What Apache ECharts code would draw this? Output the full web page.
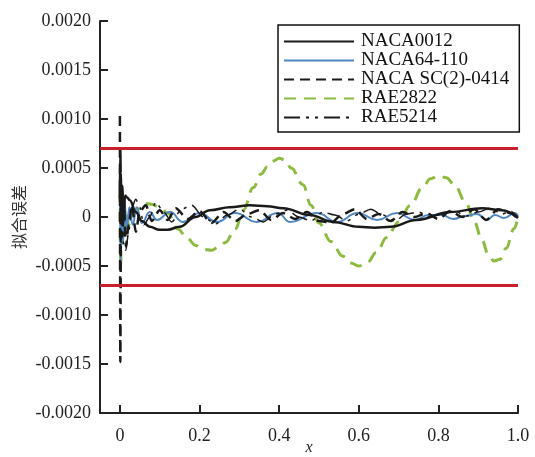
<!DOCTYPE html>
<html>
<head>
<meta charset="utf-8">
<script src="https://cdn.jsdelivr.net/npm/echarts@6/dist/echarts.min.js"></script>
<style>
  html, body { margin: 0; padding: 0; background: #fff; }
  #chart { width: 535px; height: 457px; }
</style>
</head>
<body>
<div id="chart"></div>
<script>
// Fitting error of five airfoil parameterisations along the chord x
const seriesNames = ['NACA0012', 'NACA64-110', 'NACA SC(2)-0414', 'RAE2822', 'RAE5214'];

const naca0012X = [0, 0.001, 0.002, 0.004, 0.006, 0.009, 0.013, 0.018, 0.025, 0.04, 0.055, 0.075, 0.1, 0.12, 0.15, 0.19, 0.226, 0.276, 0.327, 0.37, 0.41, 0.477, 0.535, 0.6, 0.64, 0.68, 0.745, 0.83, 0.91, 0.96, 1.0];
const naca0012Y = [0.0002, 0.0007, 0.00045, 0.0001, 0.00032, -0.00005, 0.00022, 0.0002, 0.00017, 0.00005, -0.00004, -0.0001, -0.00013, -0.00013, -0.0001, 0.0, 0.00007, 0.0001, 0.00012, 0.00011, 0.00009, 0.00002, -0.00005, -0.0001, -0.00011, -0.0001, -0.00003, 0.00005, 0.00009, 0.00007, -0.00001];

const naca64X = [0, 0.002, 0.005, 0.008, 0.012, 0.017, 0.024, 0.032, 0.042, 0.055, 0.075, 0.093, 0.126, 0.158, 0.2, 0.244, 0.289, 0.344, 0.397, 0.427, 0.495, 0.545, 0.598, 0.646, 0.696, 0.741, 0.775, 0.809, 0.837, 0.867, 0.897, 0.922, 0.942, 0.965, 0.992, 1.0];
const naca64Y = [0.0003, -0.00052, 0.00025, -0.00025, 0.00015, -0.00012, 0.0001, -0.00008, 0.0001, -0.00006, 0.00005, -0.00003, 0.00005, -0.00005, 0.00004, -0.00005, 0.00004, -0.00005, 0.00004, -0.00005, 0.00004, -0.00005, 0.00004, -0.00003, 0.00004, -0.00003, 0.00002, 0.00002, -0.00002, 0.00001, 0.00003, -0.00003, 0.00002, -0.00001, 0.00004, 0.00001];

const sc0414X = [0, 0.001, 0.003, 0.006, 0.01, 0.015, 0.022, 0.03, 0.04, 0.05, 0.065, 0.08, 0.1, 0.12, 0.14, 0.17, 0.2, 0.23, 0.26, 0.29, 0.32, 0.35, 0.38, 0.41, 0.44, 0.47, 0.5, 0.53, 0.56, 0.59, 0.62, 0.65, 0.68, 0.71, 0.74, 0.77, 0.8, 0.83, 0.86, 0.89, 0.92, 0.95, 0.98, 1.0];
const sc0414Y = [0.00103, -0.00148, 0.0003, -0.0002, 0.00015, -0.0003, -0.00008, 0.00012, -0.00015, 0.00006, 0.00012, -0.00004, 0.00007, -0.00003, 0.00009, -0.00002, 0.00006, -0.00006, 0.00005, -0.00004, 0.00003, 0.00007, -0.00003, 0.00004, -0.00002, 0.00005, -0.00004, -0.00006, 0.00003, 0.00008, -0.00002, 0.00003, -0.00004, 0.00005, 0.0, 0.00004, -0.00002, 0.00006, 0.0, 0.00008, -0.00003, 0.00008, 0.00004, -0.00002];

const rae2822X = [0, 0.002, 0.004, 0.006, 0.009, 0.012, 0.016, 0.022, 0.03, 0.045, 0.06, 0.08, 0.1, 0.12, 0.145, 0.17, 0.19, 0.21, 0.23, 0.25, 0.265, 0.29, 0.31, 0.335, 0.355, 0.37, 0.385, 0.4, 0.415, 0.43, 0.46, 0.48, 0.5, 0.53, 0.56, 0.58, 0.6, 0.62, 0.645, 0.67, 0.7, 0.73, 0.76, 0.78, 0.8, 0.82, 0.84, 0.87, 0.89, 0.91, 0.925, 0.94, 0.955, 0.97, 0.99, 1.0];
const rae2822Y = [0.00028, -0.0005, 0.0002, -0.0003, 0.0001, -0.00015, 0.00005, -0.00008, 0.00002, 0.00008, 0.00014, 0.00013, 0.0001, 0.00004, -0.00012, -0.00022, -0.00029, -0.00033, -0.00034, -0.0003, -0.00026, -0.00012, 0.00007, 0.0003, 0.00044, 0.00051, 0.00057, 0.0006, 0.00058, 0.0005, 0.00033, 0.00012, -0.00006, -0.00025, -0.0004, -0.00047, -0.0005, -0.00047, -0.00036, -0.00021, -0.00005, 0.00012, 0.0003, 0.00039, 0.00042, 0.0004, 0.00033, 0.00014, -0.00005, -0.00024, -0.00038, -0.00045, -0.00043, -0.00032, -0.00012, 0.0];

const rae5214X = [0, 0.002, 0.005, 0.009, 0.015, 0.022, 0.03, 0.04, 0.05, 0.06, 0.075, 0.09, 0.11, 0.13, 0.155, 0.18, 0.21, 0.24, 0.27, 0.3, 0.33, 0.36, 0.39, 0.42, 0.45, 0.48, 0.51, 0.54, 0.57, 0.6, 0.63, 0.66, 0.69, 0.72, 0.75, 0.78, 0.81, 0.84, 0.87, 0.9, 0.93, 0.96, 0.98, 1.0];
const rae5214Y = [0.0005, -0.0004, 0.0002, -0.0003, -0.00034, -0.00015, 0.0001, 0.00018, 0.0001, -0.00008, 0.0, 0.00015, 0.00005, -0.00005, 0.00008, 0.00012, 0.0, -0.00007, 0.00002, 0.00008, 0.0, -0.00005, 0.00003, 0.00007, 0.0, -0.00004, 0.00005, 0.00002, -0.00004, 0.00003, 0.00008, 0.00002, -0.00004, 0.00003, 0.00005, 0.0, 0.00003, 0.00006, 0.00001, 0.00005, 0.00009, 0.00003, 0.00006, 0.0];

// allowed error band (upper and lower limit)
const limits = [0.0007, -0.0007];

// axis extents and tick labels
const xMin = -0.05;
const xMax = 1.0;
const xTicks = [0, 0.2, 0.4, 0.6, 0.8, 1.0];
const yMin = -0.002;
const yMax = 0.002;
const yStep = 0.0005;

const zip = (xs, ys) => xs.map((x, i) => [x, ys[i]]);

const serifFont = '"Liberation Serif", "DejaVu Serif", serif';

const chart = echarts.init(document.getElementById('chart'), null, { renderer: 'canvas' });

function lineSeries(name, data, color, width, type, smooth, z) {
  return {
    name: name,
    type: 'line',
    data: data,
    symbol: 'none',
    smooth: smooth,
    smoothMonotone: 'x',
    z: z,
    lineStyle: { color: color, width: width, type: type },
    itemStyle: { color: color },
    emphasis: { disabled: true },
    silent: true
  };
}

const series = [
  lineSeries(seriesNames[3], zip(rae2822X, rae2822Y), '#8cbb40', 3, [12, 8], 0.4, 2),
  lineSeries(seriesNames[1], zip(naca64X, naca64Y), '#4f86c4', 2, 'solid', 0.5, 3),
  lineSeries(seriesNames[2], zip(sc0414X, sc0414Y), '#1a1a1a', 2.5, [10, 6], 0.3, 4),
  lineSeries(seriesNames[0], zip(naca0012X, naca0012Y), '#1a1a1a', 2.5, 'solid', 0.4, 5),
  lineSeries(seriesNames[4], zip(rae5214X, rae5214Y), '#1a1a1a', 1.5, [16, 6, 3, 6, 3, 6], 0.3, 6)
];

// red limit lines across the whole plot width
limits.forEach((v, i) => {
  series.push({
    name: 'limit' + i,
    type: 'line',
    data: [[xMin, v], [xMax, v]],
    symbol: 'none',
    z: 7,
    silent: true,
    lineStyle: { color: '#c8202a', width: 3, type: 'solid' }
  });
});

chart.setOption({
  animation: false,
  backgroundColor: '#ffffff',
  grid: { left: 100, right: 17, top: 21, bottom: 44, containLabel: false, outerBoundsMode: 'none' },
  legend: {
    data: seriesNames,
    orient: 'vertical',
    left: 278,
    top: 25,
    width: 232,
    padding: [7, 10, 5, 5],
    itemGap: 0,
    itemWidth: 70,
    itemHeight: 19,
    backgroundColor: '#ffffff',
    borderColor: '#111',
    borderWidth: 1.5,
    itemStyle: { opacity: 0 },
    textStyle: { fontFamily: serifFont, fontSize: 19, lineHeight: 19, color: '#111', padding: [0, 0, 0, 2] },
    selectedMode: false
  },
  xAxis: {
    type: 'value',
    min: xMin,
    max: xMax,
    name: 'x',
    nameLocation: 'middle',
    nameGap: 27,
    nameMoveOverlap: false,
    nameTextStyle: { fontFamily: serifFont, fontStyle: 'italic', fontSize: 16, color: '#222' },
    splitLine: { show: false },
    axisLine: { show: true, onZero: false, lineStyle: { color: '#222', width: 2 } },
    axisTick: { show: true, inside: true, length: 8, customValues: xTicks, lineStyle: { color: '#222', width: 2 } },
    axisLabel: {
      customValues: xTicks,
      margin: 14,
      fontFamily: serifFont,
      fontSize: 18,
      color: '#222',
      formatter: v => (v === 0 ? '0' : v.toFixed(1))
    }
  },
  yAxis: {
    type: 'value',
    min: yMin,
    max: yMax,
    interval: yStep,
    name: '拟合误差',
    nameLocation: 'middle',
    nameGap: 73,
    nameMoveOverlap: false,
    nameTextStyle: { fontFamily: '"Noto Sans CJK SC", sans-serif', fontSize: 16, color: '#333' },
    splitLine: { show: false },
    axisLine: { show: true, onZero: false, lineStyle: { color: '#222', width: 2 } },
    axisTick: { show: true, inside: true, length: 8, lineStyle: { color: '#222', width: 2 } },
    axisLabel: {
      margin: 9,
      fontFamily: serifFont,
      fontSize: 18,
      color: '#222',
      formatter: v => (Math.abs(v) < 1e-12 ? '0' : v.toFixed(4))
    }
  },
  series: series
});
</script>
</body>
</html>
